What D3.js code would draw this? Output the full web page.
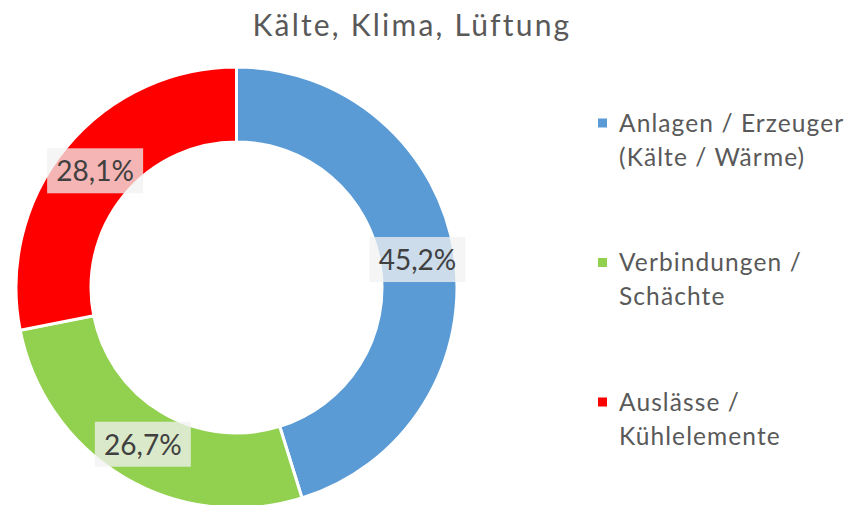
<!DOCTYPE html>
<html>
<head>
<meta charset="utf-8">
<script src="https://cdn.jsdelivr.net/npm/d3@7"></script>
<style>
  html, body { margin: 0; padding: 0; background: #fff; }
  svg { display: block; font-family: Lato, "Open Sans", sans-serif; }
</style>
</head>
<body>
<svg id="chart" width="850" height="505"></svg>
<script>
const title = 'Kälte, Klima, Lüftung';
const categories = ['Anlagen / Erzeuger (Kälte / Wärme)', 'Verbindungen / Schächte', 'Auslässe / Kühlelemente'];
const legendLines = [['Anlagen / Erzeuger', '(Kälte / Wärme)'], ['Verbindungen /', 'Schächte'], ['Auslässe /', 'Kühlelemente']];
const shares = [45.2, 26.7, 28.1];
const colors = ['#5B9BD5', '#92D050', '#FF0000'];

const svg = d3.select('#chart');
const cx = 236.5, cy = 287.5, outerR = 220.5, innerR = 145.5;

svg.append('text')
  .attr('x', 412).attr('y', 36)
  .attr('text-anchor', 'middle')
  .attr('font-size', 30)
  .attr('letter-spacing', 2.2)
  .attr('fill', '#595959')
  .text(title);

const pie = d3.pie().sort(null).value(d => d.value);
const slices = pie(shares.map((value, i) => ({ value, name: categories[i], color: colors[i] })));
const arc = d3.arc().innerRadius(innerR).outerRadius(outerR);
const labelArc = d3.arc().innerRadius((innerR + outerR) / 2).outerRadius((innerR + outerR) / 2);

const donut = svg.append('g').attr('transform', `translate(${cx},${cy})`);
donut.selectAll('path.slice').data(slices).join('path')
  .attr('class', 'slice')
  .attr('d', arc)
  .attr('fill', d => d.data.color)
  .attr('stroke', '#fff')
  .attr('stroke-width', 3)
  .attr('stroke-linejoin', 'miter');

const fmt = v => v.toFixed(1).replace('.', ',') + '%';
const labels = donut.selectAll('g.label').data(slices).join('g')
  .attr('class', 'label')
  .attr('transform', d => `translate(${labelArc.centroid(d)})`);
labels.append('rect')
  .attr('x', -48).attr('y', -23).attr('width', 96).attr('height', 45)
  .attr('fill', '#F2F2F2').attr('fill-opacity', 0.75);
labels.append('text')
  .attr('text-anchor', 'middle')
  .attr('dy', '0.36em')
  .attr('font-size', 28)
  .attr('fill', '#404040')
  .text(d => fmt(d.data.value));

const legend = svg.append('g');
const rowY = d3.scalePoint().domain(d3.range(categories.length)).range([123, 402]);
const rows = legend.selectAll('g.row').data(legendLines).join('g')
  .attr('class', 'row')
  .attr('transform', (d, i) => `translate(598,${rowY(i)})`);
rows.append('rect')
  .attr('x', 0).attr('y', -4.5).attr('width', 9).attr('height', 9)
  .attr('fill', (d, i) => colors[i]);
rows.append('text')
  .attr('x', 21)
  .attr('font-size', 24.5)
  .attr('letter-spacing', 1.1)
  .attr('fill', '#595959')
  .selectAll('tspan').data(d => d).join('tspan')
  .attr('x', 21)
  .attr('y', (d, j) => j * 34)
  .attr('dy', '0.36em')
  .text(d => d);
</script>
</body>
</html>
